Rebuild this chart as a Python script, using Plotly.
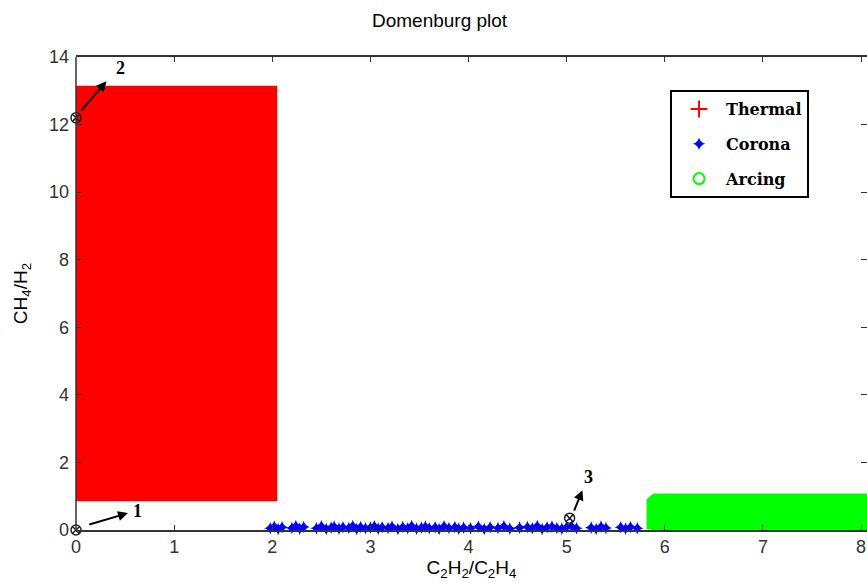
import plotly.graph_objects as go

# ---- data ----
# Thermal cloud extents (C2H2/C2H4, CH4/H2)
thermal_x = [0.0, 2.0, 2.0, 0.0, 0.0]
thermal_y = [1.0, 1.0, 13.0, 13.0, 1.0]

# Corona points along the x axis
corona_x = [1.98, 2.02, 2.06, 2.10, 2.20, 2.24, 2.28, 2.32, 2.45, 2.50, 2.55, 2.60,
            2.63, 2.68, 2.72, 2.78, 2.82, 2.86, 2.90, 2.95, 3.00, 3.04, 3.08, 3.12,
            3.18, 3.22, 3.28, 3.33, 3.38, 3.42, 3.47, 3.52, 3.56, 3.60, 3.66, 3.70,
            3.75, 3.80, 3.86, 3.90, 3.95, 4.02, 4.10, 4.16, 4.22, 4.30, 4.36, 4.42,
            4.52, 4.60, 4.65, 4.70, 4.75, 4.80, 4.85, 4.90, 4.95, 5.00, 5.05, 5.10,
            5.25, 5.30, 5.35, 5.40, 5.55, 5.60, 5.65, 5.72]
corona_y = [0.05, 0.10, 0.03, 0.08, 0.06, 0.12, 0.04, 0.09, 0.05, 0.11, 0.03, 0.07,
            0.10, 0.04, 0.08, 0.06, 0.12, 0.03, 0.09, 0.05, 0.07, 0.11, 0.04, 0.08,
            0.06, 0.10, 0.03, 0.09, 0.05, 0.12, 0.04, 0.07, 0.10, 0.05, 0.08, 0.03,
            0.11, 0.06, 0.09, 0.04, 0.07, 0.05, 0.10, 0.03, 0.08, 0.06, 0.11, 0.04,
            0.07, 0.09, 0.05, 0.12, 0.03, 0.08, 0.10, 0.06, 0.04, 0.09, 0.11, 0.05,
            0.07, 0.03, 0.10, 0.06, 0.08, 0.04, 0.09, 0.05]

# Arcing cloud extents
arcing_x = [5.86, 8.10, 8.10, 5.90, 5.86, 5.86]
arcing_y = [0.02, 0.02, 0.95, 0.95, 0.85, 0.02]

# Highlighted points and labels
pt_labels = ["1", "2", "3"]
pt_x = [0.0, 0.0, 5.03]
pt_y = [0.0, 12.2, 0.35]
arrow_from_x = [0.12, 0.04, 5.07]
arrow_from_y = [0.15, 12.37, 0.53]
arrow_to_x = [0.53, 0.31, 5.16]
arrow_to_y = [0.50, 13.28, 1.18]
label_x = [0.63, 0.45, 5.22]
label_y = [0.55, 13.67, 1.57]

x_ticks = [0, 1, 2, 3, 4, 5, 6, 7, 8]
y_ticks = [0, 2, 4, 6, 8, 10, 12, 14]

RED, BLUE, GREEN = "#FF0000", "#0000FF", "#00FF00"

fig = go.Figure()

# Thermal region (filled) + legend marker
fig.add_trace(go.Scatter(x=thermal_x, y=thermal_y, mode="lines", fill="toself",
                         fillcolor=RED, line=dict(color=RED, width=10),
                         showlegend=False, hoverinfo="skip"))
fig.add_trace(go.Scatter(x=[None], y=[None], mode="markers", name="<b>Thermal</b>",
                         legendgroup="t",
                         marker=dict(symbol="cross-thin-open", size=12, color=RED,
                                     line=dict(color=RED, width=2))))

# Corona points
fig.add_trace(go.Scatter(x=corona_x, y=corona_y, mode="markers", name="<b>Corona</b>",
                         legendgroup="c", cliponaxis=False,
                         marker=dict(symbol="star-diamond", size=9, color=BLUE,
                                     line=dict(width=0))))

# Arcing region (filled) + legend marker
fig.add_trace(go.Scatter(x=arcing_x, y=arcing_y, mode="lines", fill="toself",
                         fillcolor=GREEN, line=dict(color=GREEN, width=9),
                         showlegend=False, hoverinfo="skip"))
fig.add_trace(go.Scatter(x=[None], y=[None], mode="markers", name="<b>Arcing</b>",
                         legendgroup="a",
                         marker=dict(symbol="circle-open", size=11, color=GREEN,
                                     line=dict(color=GREEN, width=2))))

# Highlighted points
fig.add_trace(go.Scatter(x=pt_x, y=pt_y, mode="markers", showlegend=False,
                         cliponaxis=False, hoverinfo="skip",
                         marker=dict(symbol="circle-x-open", size=10, color="#222",
                                     line=dict(color="#222", width=1.5))))

annotations = []
for i in range(len(pt_labels)):
    annotations.append(dict(x=arrow_to_x[i], y=arrow_to_y[i], ax=arrow_from_x[i],
                            ay=arrow_from_y[i], xref="x", yref="y", axref="x", ayref="y",
                            showarrow=True, arrowhead=2, arrowsize=1, arrowwidth=2,
                            arrowcolor="black", text=""))
    annotations.append(dict(x=label_x[i], y=label_y[i], xref="x", yref="y",
                            text="<b>" + pt_labels[i] + "</b>", showarrow=False,
                            font=dict(family="Liberation Serif", size=18, color="black")))

# Left spine as a shape (right spine lies outside the picture)
shapes = [dict(type="line", xref="paper", yref="paper", x0=0, x1=0, y0=0, y1=1,
               line=dict(color="#333", width=1.5))]

fig.update_layout(
    width=867, height=583,
    margin=dict(l=76, r=0, t=57, b=53, autoexpand=False),
    paper_bgcolor="white", plot_bgcolor="white",
    title=dict(text="Domenburg plot", x=0.507, xanchor="center", y=0.965, yanchor="middle",
               font=dict(family="Liberation Sans", size=19, color="black")),
    showlegend=True,
    legend=dict(x=0.751, y=0.930, xanchor="left", yanchor="top",
                bgcolor="white", bordercolor="black", borderwidth=2,
                tracegroupgap=11, itemwidth=44,
                font=dict(family="DejaVu Serif", size=16, color="black")),
    annotations=annotations,
    shapes=shapes,
)

fig.update_xaxes(range=[0, 8.06], tickvals=x_ticks, ticks="inside", ticklen=5,
                 showline=True, mirror="ticks", linecolor="#333", linewidth=1.5,
                 tickcolor="#333", showgrid=False, zeroline=False,
                 ticklabeloverflow="allow", automargin=False,
                 tickfont=dict(family="Liberation Sans", size=18, color="#333"),
                 title=dict(text="C<sub>2</sub>H<sub>2</sub>/C<sub>2</sub>H<sub>4</sub>",
                            font=dict(family="Liberation Sans", size=19, color="black"),
                            standoff=2))
fig.update_yaxes(range=[0, 14], tickvals=y_ticks, ticks="inside", ticklen=6,
                 showline=False, mirror="ticks", tickcolor="#333",
                 showgrid=False, zeroline=False, ticklabelstandoff=6, automargin=False,
                 tickfont=dict(family="Liberation Sans", size=18, color="#333"),
                 title=dict(text="CH<sub>4</sub>/H<sub>2</sub>",
                            font=dict(family="Liberation Sans", size=19, color="black"),
                            standoff=16))

fig.write_html("out.html")
